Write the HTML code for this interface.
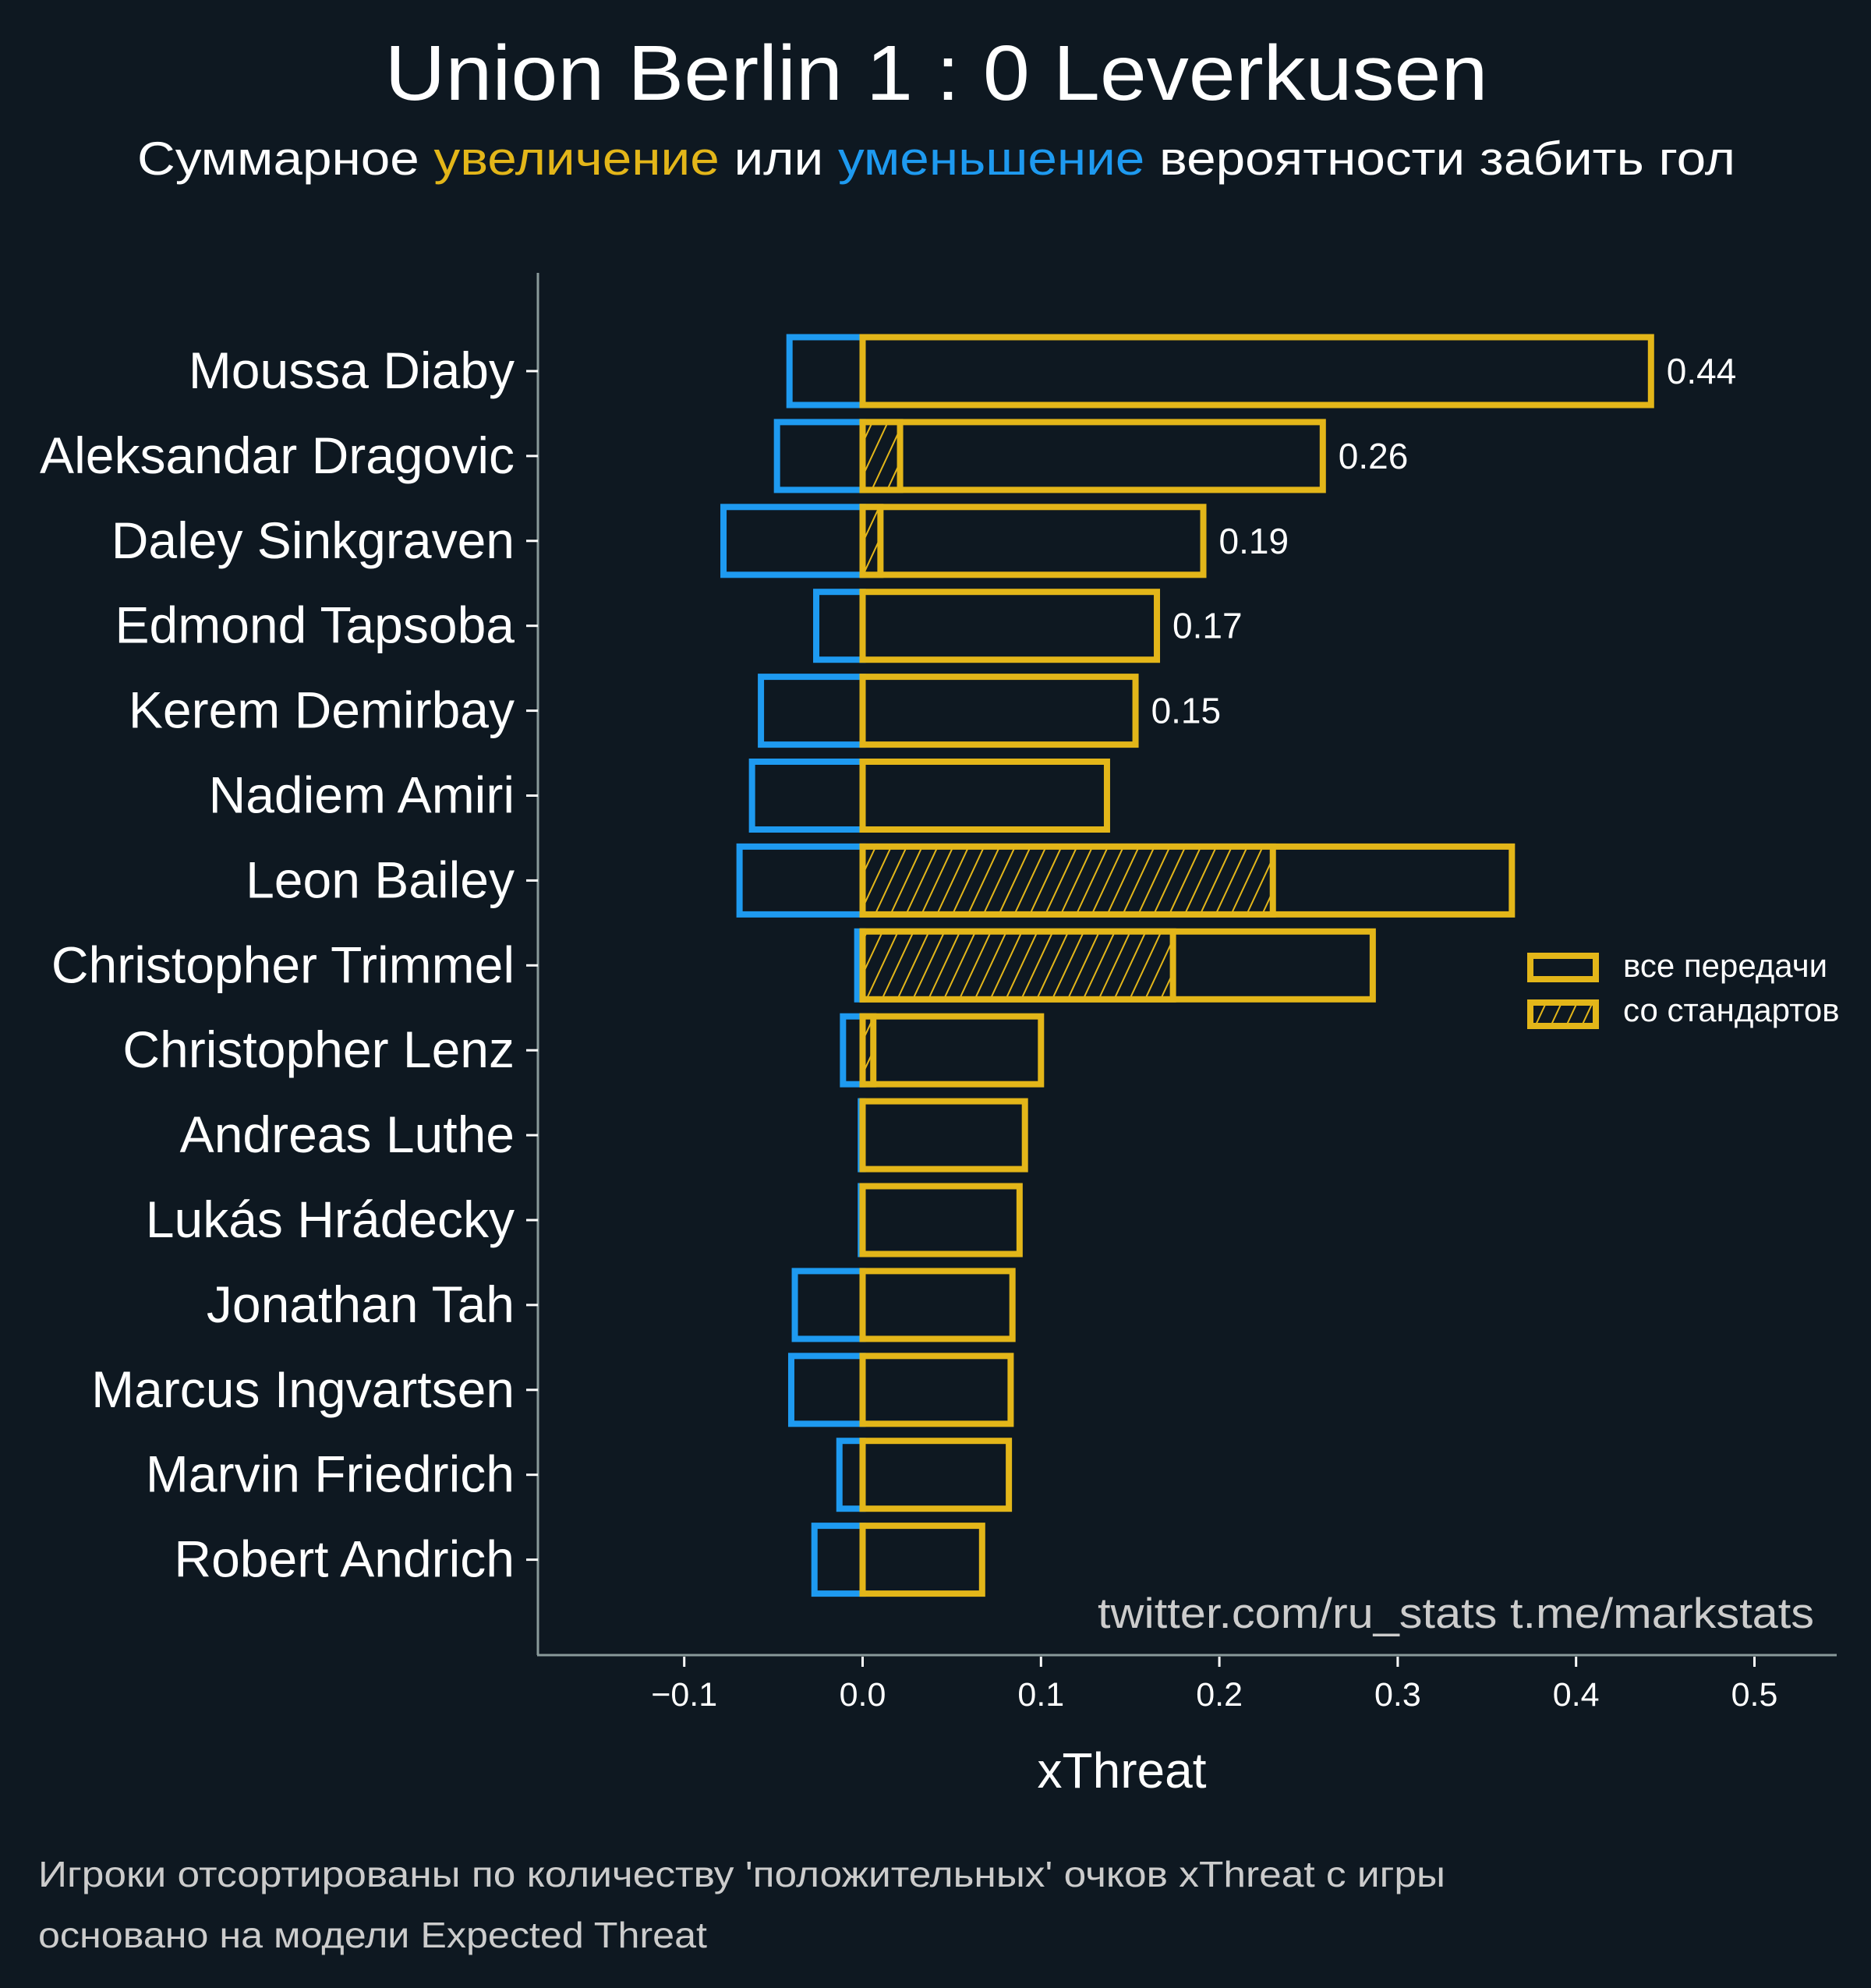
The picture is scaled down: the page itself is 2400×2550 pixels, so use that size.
<!DOCTYPE html>
<html><head><meta charset="utf-8">
<style>
html,body{margin:0;padding:0;background:#0e1821;}
svg{display:block;font-family:"Liberation Sans","DejaVu Sans",sans-serif;}
</style></head>
<body>
<svg id="chart" width="2400" height="2550" viewBox="0 0 2400 2550" xmlns="http://www.w3.org/2000/svg">
<defs>
<pattern id="hatch" patternUnits="userSpaceOnUse" width="18" height="18" patternTransform="rotate(25)">
<rect width="18" height="18" fill="#0e1821"/>
<line x1="0" y1="0" x2="0" y2="18" stroke="#e3b619" stroke-width="4"/>
</pattern>
</defs>
<rect width="2400" height="2550" fill="#0e1821"/>
<text x="1201" y="128" text-anchor="middle" font-size="100" textLength="1415" lengthAdjust="spacingAndGlyphs" fill="#ffffff">Union Berlin 1 : 0 Leverkusen</text>
<text x="1201" y="224" text-anchor="middle" font-size="60" textLength="2050" lengthAdjust="spacingAndGlyphs" fill="#ffffff">Суммарное <tspan fill="#e3b619">увеличение</tspan> или <tspan fill="#1e9af0">уменьшение</tspan> вероятности забить гол</text>
<g id="plot"></g>
<text x="2327" y="2088" text-anchor="end" font-size="55" textLength="919" lengthAdjust="spacingAndGlyphs" fill="#cccccc">twitter.com/ru_stats  t.me/markstats</text>
<text x="1439" y="2293" text-anchor="middle" font-size="64" fill="#ffffff">xThreat</text>
<g>
<rect x="1963" y="1226" width="84" height="30" fill="#0e1821" stroke="#e3b619" stroke-width="8"/>
<text x="2082" y="1253" font-size="42" fill="#ffffff">все передачи</text>
<rect x="1963" y="1286" width="84" height="30" fill="url(#hatch)" stroke="#e3b619" stroke-width="8"/>
<text x="2082" y="1310" font-size="42" fill="#ffffff">со стандартов</text>
</g>
<text x="49" y="2420" font-size="46" textLength="1805" lengthAdjust="spacingAndGlyphs" fill="#cccccc">Игроки отсортированы по количеству 'положительных' очков xThreat с игры</text>
<text x="49" y="2498" font-size="46" textLength="858" lengthAdjust="spacingAndGlyphs" fill="#cccccc">основано на модели Expected Threat</text>
</svg>
<script>
const players = ["Moussa Diaby","Aleksandar Dragovic","Daley Sinkgraven","Edmond Tapsoba","Kerem Demirbay","Nadiem Amiri","Leon Bailey","Christopher Trimmel","Christopher Lenz","Andreas Luthe","Lukás Hrádecky","Jonathan Tah","Marcus Ingvartsen","Marvin Friedrich","Robert Andrich"];
const positiveValues = [0.442,0.258,0.191,0.165,0.153,0.137,0.364,0.286,0.100,0.091,0.088,0.084,0.083,0.082,0.067];
const setPieceValues = [0,0.021,0.010,0,0,0,0.230,0.174,0.006,0,0,0,0,0,0];
const negativeValues = [-0.041,-0.048,-0.078,-0.026,-0.057,-0.062,-0.069,-0.003,-0.011,-0.001,-0.001,-0.038,-0.040,-0.013,-0.027];
const labelCount = 5;
const xTicks = [-0.1,0,0.1,0.2,0.3,0.4,0.5];
const xTickLabels = ["−0.1","0.0","0.1","0.2","0.3","0.4","0.5"];

const NS="http://www.w3.org/2000/svg";
const g=document.getElementById('plot');
const x0=1106.5, xs=2288;
function xScale(v){return x0+v*xs;}
function yScale(i){return 476+i*108.9;}
const barH=87;
function el(t,a){const e=document.createElementNS(NS,t);for(const k in a)e.setAttribute(k,a[k]);g.appendChild(e);return e;}

let sp=el('line',{x1:690,y1:350,x2:690,y2:2123,stroke:'#8a9a9a','stroke-width':3});


sp=el('line',{x1:689,y1:2123,x2:2356,y2:2123,stroke:'#8a9a9a','stroke-width':3});



xTicks.forEach((t,i)=>{
  const x=xScale(t);
  const tk=el('line',{x1:x,y1:2125,x2:x,y2:2138,stroke:'#ffffff','stroke-width':3});
  
  
  const tl=el('text',{x:x,y:2188,'text-anchor':'middle','font-size':43,fill:'#ffffff'});
  tl.textContent=xTickLabels[i];
  
  
});

players.forEach((p,i)=>{
  const y=yScale(i);
  const tk=el('line',{x1:675,y1:y,x2:690,y2:y,stroke:'#ffffff','stroke-width':3});
  
  
  const lb=el('text',{x:660,y:y+22,'text-anchor':'end','font-size':66,fill:'#ffffff'});
  lb.textContent=p;
  
  
  const nx=xScale(negativeValues[i]);
  const nb=el('rect',{x:nx,y:y-barH/2,width:Math.max(0,x0-nx),height:barH,fill:'none',stroke:'#1e9af0','stroke-width':8});
  
  
  const px=xScale(positiveValues[i]);
  const pb=el('rect',{x:x0,y:y-barH/2,width:px-x0,height:barH,fill:'#0e1821',stroke:'#e3b619','stroke-width':8});
  
  
  if(setPieceValues[i]>0){
    const hx=xScale(setPieceValues[i]);
    const hb=el('rect',{x:x0,y:y-barH/2,width:hx-x0,height:barH,fill:'url(#hatch)',stroke:'#e3b619','stroke-width':8});
    
    
  }
  if(i<labelCount){
    const vl=el('text',{x:px+20,y:y+16,'font-size':46,fill:'#ffffff'});
    vl.textContent=positiveValues[i].toFixed(2);
    
    
  }
});
</script>
</body></html>
